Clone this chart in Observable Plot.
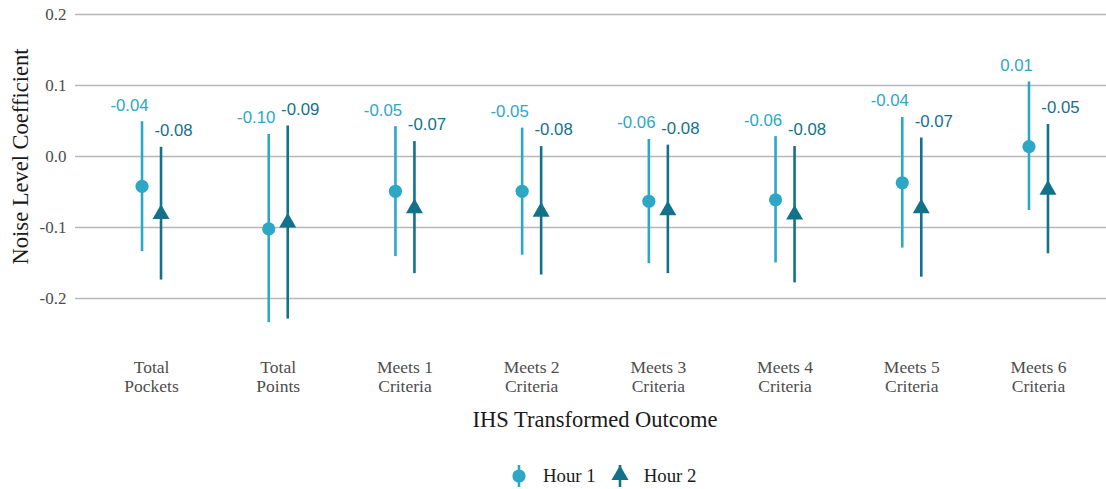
<!DOCTYPE html>
<html>
<head>
<meta charset="utf-8">
<script src="https://cdn.jsdelivr.net/npm/d3@7"></script>
<script src="https://cdn.jsdelivr.net/npm/@observablehq/plot@0.6"></script>
<style>
  html, body { margin: 0; padding: 0; background: #fff; }
  #chart svg { display: block; }
  #legend { height: 39px; box-sizing: border-box; padding-top: 13px; padding-left: 509px; display: flex; align-items: center; font-family: "Liberation Serif", serif; font-size: 18.8px; color: #1a1a1a; }
  #legend .item { display: flex; align-items: center; margin-right: 14px; }
  #legend .item svg { display: block; margin-right: 14px; }
</style>
</head>
<body>
<div id="chart"></div>
<div id="legend"></div>
<script>
// ---- data ----
const categories = ["Total Pockets", "Total Points", "Meets 1 Criteria", "Meets 2 Criteria", "Meets 3 Criteria", "Meets 4 Criteria", "Meets 5 Criteria", "Meets 6 Criteria"];
const tickLabels = ["Total\nPockets", "Total\nPoints", "Meets 1\nCriteria", "Meets 2\nCriteria", "Meets 3\nCriteria", "Meets 4\nCriteria", "Meets 5\nCriteria", "Meets 6\nCriteria"];
const series = ["Hour 1", "Hour 2"];
const colors = ["#2CA7C6", "#12728A"];

const hour1Est = [-0.042, -0.102, -0.049, -0.049, -0.063, -0.061, -0.037, 0.014];
const hour1Lo  = [-0.134, -0.234, -0.141, -0.139, -0.151, -0.150, -0.129, -0.076];
const hour1Hi  = [ 0.049,  0.031,  0.042,  0.040,  0.024,  0.028,  0.055,  0.105];

const hour2Est = [-0.081, -0.093, -0.073, -0.078, -0.076, -0.082, -0.073, -0.047];
const hour2Lo  = [-0.174, -0.229, -0.165, -0.167, -0.165, -0.178, -0.170, -0.137];
const hour2Hi  = [ 0.013,  0.043,  0.021,  0.014,  0.016,  0.014,  0.026,  0.045];

const yTicks = [-0.2, -0.1, 0.0, 0.1, 0.2];
const xTitle = "IHS Transformed Outcome";
const yTitle = "Noise Level Coefficient";

// ---- build tables ----
const h1 = categories.map((c, i) => ({cat: c, hour: series[0], est: hour1Est[i], lo: hour1Lo[i], hi: hour1Hi[i]}));
const h2 = categories.map((c, i) => ({cat: c, hour: series[1], est: hour2Est[i], lo: hour2Lo[i], hi: hour2Hi[i]}));

const dodge = 9.5;
const labelShift = 12.5;
const sansFont = "Liberation Sans, Arial, sans-serif";

const chart = Plot.plot({
  width: 1106,
  height: 450,
  marginLeft: 75,
  marginRight: -8,
  marginTop: 14,
  marginBottom: 152,
  style: {fontFamily: "Liberation Serif, serif", background: "#fff"},
  x: {type: "point", domain: categories, padding: 0.6, round: false},
  y: {domain: [-0.2, 0.2]},
  marks: [
    Plot.gridY(yTicks, {stroke: "#b7b7b7", strokeOpacity: 1, strokeWidth: 1.6}),
    Plot.axisY(yTicks, {tickSize: 0, tickPadding: 9, tickFormat: d => d.toFixed(1), fontSize: 17, fill: "#4d4d4d", label: null}),
    Plot.axisX({tickSize: 0, tickPadding: 61, tickFormat: d => tickLabels[categories.indexOf(d)], fontSize: 17.5, lineHeight: 1.1, fill: "#4d4d4d", label: null}),
    Plot.text([xTitle], {text: d => d, frameAnchor: "bottom", dy: 128, fontSize: 22.5, fill: "#1a1a1a"}),
    Plot.text([yTitle], {text: d => d, frameAnchor: "left", textAnchor: "middle", rotate: -90, dx: -55, fontSize: 22.5, fill: "#1a1a1a"}),
    // Hour 1
    Plot.ruleX(h1, {x: "cat", y1: "lo", y2: "hi", dx: -dodge, stroke: colors[0], strokeWidth: 2.6}),
    Plot.dot(h1, {x: "cat", y: "est", dx: -dodge, r: 6.6, fill: colors[0], symbol: "circle"}),
    Plot.text(h1, {x: "cat", y: "hi", text: d => d.est.toFixed(2), dx: -dodge - labelShift, dy: -16.5, fill: colors[0], fontSize: 16.8, fontFamily: sansFont}),
    // Hour 2
    Plot.ruleX(h2, {x: "cat", y1: "lo", y2: "hi", dx: dodge, stroke: colors[1], strokeWidth: 2.6}),
    Plot.dot(h2, {x: "cat", y: "est", dx: dodge, r: 6.3, fill: colors[1], symbol: "triangle"}),
    Plot.text(h2, {x: "cat", y: "hi", text: d => d.est.toFixed(2), dx: dodge + labelShift, dy: -16.5, fill: colors[1], fontSize: 16.8, fontFamily: sansFont})
  ]
});
document.getElementById("chart").appendChild(chart);

// ---- legend ----
const legend = d3.select("#legend");
series.forEach((s, i) => {
  const item = legend.append("span").attr("class", "item");
  const svg = item.append("svg").attr("width", 20).attr("height", 24);
  svg.append("line").attr("x1", 10).attr("x2", 10).attr("y1", 1).attr("y2", 23)
    .attr("stroke", colors[i]).attr("stroke-width", 2.6);
  const sym = i === 0 ? d3.symbolCircle : d3.symbolTriangle;
  svg.append("path").attr("transform", i === 0 ? "translate(10,12)" : "translate(10,11)")
    .attr("d", d3.symbol(sym, Math.PI * (i === 0 ? 6.6 : 6.3) ** 2)())
    .attr("fill", colors[i]);
  item.append("span").text(s);
});
</script>
</body>
</html>
